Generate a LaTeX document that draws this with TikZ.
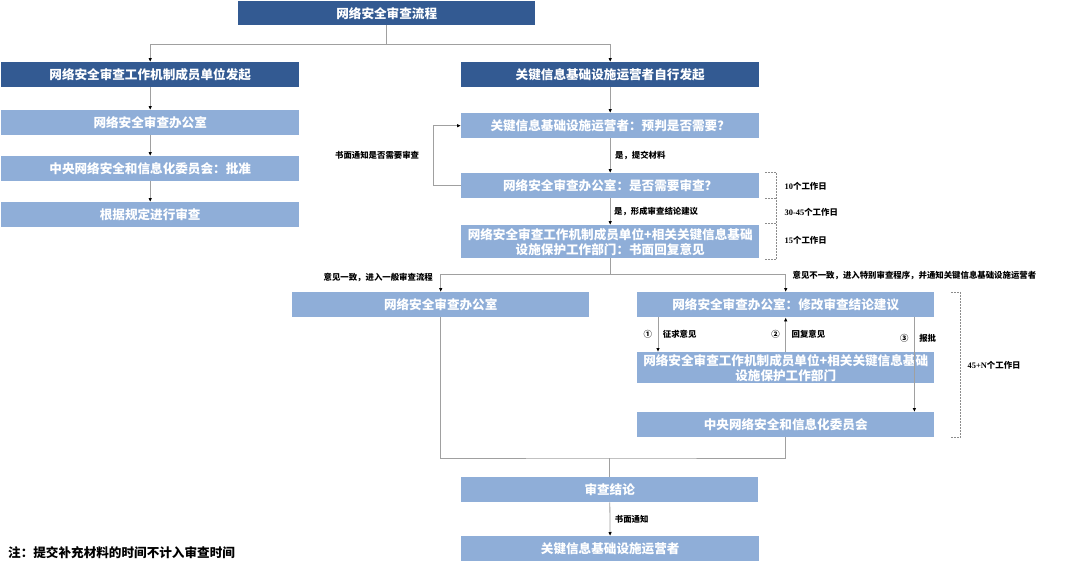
\documentclass[tikz,border=0pt]{standalone}
\usepackage{fontspec}
\setmainfont{Noto Sans CJK SC}
\newfontfamily\numfont{Liberation Serif}
\usetikzlibrary{positioning,arrows.meta,calc}
\definecolor{hdblue}{HTML}{335A92}
\definecolor{stepblue}{HTML}{8FAED8}
\definecolor{linegray}{HTML}{A0A0A0}

\begin{document}
\begin{tikzpicture}[x=1pt, y=-1pt,
	font=\bfseries,
	hd/.style={fill=hdblue, text=white, font=\bfseries\fontsize{12.6}{15}\selectfont,
		minimum width=298pt, minimum height=25pt, inner sep=0pt, align=center,
		anchor=north west},
	stepbox/.style={hd, fill=stepblue},
	lbl/.style={font=\bfseries\fontsize{8.4}{10}\selectfont, text=black, inner sep=1.5pt},
	flow/.style={-{Latex[length=4pt,width=3.6pt,color=black]}, draw=linegray, line width=0.8pt},
	link/.style={draw=linegray, line width=0.8pt},
	brk/.style={draw=black!45, dash pattern=on 2pt off 1pt, line width=0.6pt},
	days/.style={lbl, anchor=west},
]
\useasboundingbox (0,0) rectangle (1080,570);

% ---- title ----
\node[hd, minimum width=297pt, minimum height=24pt] (title) at (238,1) {网络安全审查流程};

% ---- left column: initiated by member units ----
\node[hd] (mem) at (1,62) {网络安全审查工作机制成员单位发起};
\node[stepbox] (lof) at (1,110) {网络安全审查办公室};
\node[stepbox] (lcc) at (1,156) {中央网络安全和信息化委员会：批准};
\node[stepbox] (lrv) at (1,202) {根据规定进行审查};

% ---- right column: initiated by the operator ----
\node[hd] (opr) at (461,62) {关键信息基础设施运营者自行发起};
\node[stepbox] (pre) at (461,113) {关键信息基础设施运营者：预判是否需要？};
\node[stepbox] (need) at (461,173) {网络安全审查办公室：是否需要审查？};
\node[stepbox, minimum height=33pt] (rep) at (461,225)
	{网络安全审查工作机制成员单位+相关关键信息基础\\设施保护工作部门：书面回复意见};

% ---- general / special review ----
\node[stepbox, minimum width=297pt] (gen) at (292,292) {网络安全审查办公室};
\node[stepbox, minimum width=297pt] (mod) at (637,292) {网络安全审查办公室：修改审查结论建议};
\node[stepbox, minimum width=297pt, minimum height=31pt] (ask) at (637,352)
	{网络安全审查工作机制成员单位+相关关键信息基础\\设施保护工作部门};
\node[stepbox, minimum width=297pt] (ccc) at (637,412) {中央网络安全和信息化委员会};

% ---- conclusion ----
\node[stepbox, minimum width=297pt] (res) at (461,477) {审查结论};
\node[stepbox] (fin) at (461,536) {关键信息基础设施运营者};

% ---- connectors ----
\coordinate (t0) at ([yshift=-19pt]title.south);
\draw[flow] (title.south) -- (t0) -| (mem.north);
\draw[flow] (t0) -| (opr.north);

\draw[flow] (mem) -- (lof);
\draw[flow] (lof) -- (lcc);
\draw[flow] (lcc) -- (lrv);

\draw[flow] (opr) -- (pre);
\draw[flow] (pre) -- node[lbl, right=3pt] {是，提交材料} (need);
\draw[flow] (need) -- node[lbl, right=2pt] {是，形成审查结论建议} (rep);
\draw[flow] (need.west) -- ++(-28,0) |- node[lbl, left=12pt, pos=0.25] {书面通知是否需要审查} (pre.west);

\coordinate (s0) at ([yshift=-16pt]rep.south);
\draw[link] (rep.south) -- (s0);
\draw[flow] (s0) -| node[lbl, anchor=east, pos=0.6, xshift=-6pt] {意见一致，进入一般审查流程} (gen.north);
\draw[flow] (s0) -| node[lbl, anchor=west, pos=0.52, xshift=5pt] {意见不一致，进入特别审查程序，并通知关键信息基础设施运营者} (mod.north);

\draw[flow] ([xshift=21pt]mod.south west) -- node[lbl, left=4pt] {①} node[lbl, right=3pt] {征求意见} ([xshift=21pt]ask.north west);
\draw[flow] (ask.north) -- node[lbl, left=4pt] {②} node[lbl, right=4pt] {回复意见} (mod.south);
\draw[flow] ([xshift=-20pt]mod.south east) -- node[lbl, left=4pt, pos=0.22] {③} node[lbl, right=3pt, pos=0.22] {报批} ([xshift=-20pt]ccc.north east);

\coordinate (m0) at ([yshift=19pt]res.north);
\draw[link] (gen.south) |- (m0) -| (ccc.south);
\draw[link] (m0) -- (res.north);
\draw[flow] (res) -- node[lbl, right=3pt] {书面通知} (fin);

% ---- working-day brackets ----
\draw[brk] ([xshift=6pt,yshift=1pt]need.north east) -- ++(11,0) |- ([xshift=6pt,yshift=-1pt]rep.south east);
\draw[brk] ([xshift=6pt]need.south east) -- ++(11,0);
\draw[brk] ([xshift=6pt,yshift=2pt]rep.north east) -- ++(11,0);
\node[days] (d10) at (783,186) {{\numfont\bfseries 10}个工作日};
\node[days] (d30) at (783,212) {{\numfont\bfseries 30-45}个工作日};
\node[days] (d15) at (783,240) {{\numfont\bfseries 15}个工作日};

\draw[brk] ([xshift=17pt]mod.north east) -- ++(9,0) |- ([xshift=17pt]ccc.south east);
\node[days] (d45) at (966,365) {{\numfont\bfseries 45+N}个工作日};

% ---- note ----
\node[anchor=west, font=\bfseries\fontsize{12.6}{15}\selectfont, inner sep=0pt] (note) at (8,553)
	{注：提交补充材料的时间不计入审查时间};

\end{tikzpicture}
\end{document}
